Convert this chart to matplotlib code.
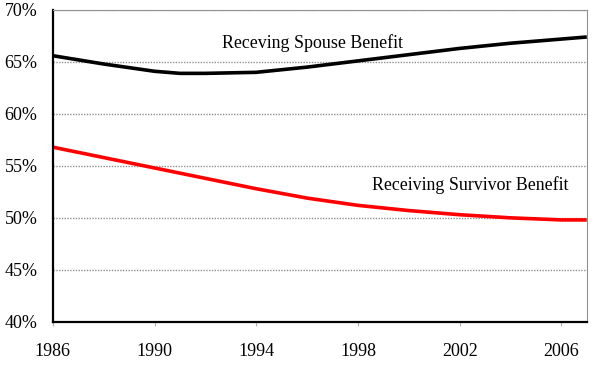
import numpy as np
import matplotlib
matplotlib.use("Agg")
import matplotlib.pyplot as plt
from matplotlib.ticker import FuncFormatter

years = [1986, 1988, 1990, 1991, 1992, 1994, 1996, 1998, 2000, 2002, 2004, 2006, 2007]
spouse = [65.6, 64.8, 64.1, 63.9, 63.9, 64.0, 64.5, 65.1, 65.7, 66.3, 66.8, 67.2, 67.4]
survivor = [56.8, 55.8, 54.8, 54.3, 53.8, 52.8, 51.9, 51.2, 50.7, 50.3, 50.0, 49.8, 49.8]

xticks = [1986, 1990, 1994, 1998, 2002, 2006]
yticks = [40, 45, 50, 55, 60, 65, 70]

plt.rcParams["font.family"] = ["Liberation Serif", "DejaVu Serif"]

fig = plt.figure(figsize=(6, 3.69), dpi=100)
ax = fig.add_axes([0.088, 0.128, 0.89, 0.845])

ax.plot(years, spouse, color="black", lw=2.6, solid_capstyle="butt")
ax.plot(years, survivor, color="#ff0000", lw=2.6, solid_capstyle="butt")

ax.text(1996.2, 66.8, "Receving Spouse Benefit", ha="center", va="center", fontsize=12.9)
ax.text(2002.4, 53.15, "Receiving Survivor Benefit", ha="center", va="center", fontsize=12.9)

ax.set_xlim(1986, 2007)
ax.set_ylim(40, 70)
ax.set_xticks(xticks)
ax.set_yticks(yticks)
ax.yaxis.set_major_formatter(FuncFormatter(lambda v, p: "%d%%" % v))
ax.grid(axis="y", color="#909090", ls=(0, (1, 1)), lw=1.0)
ax.set_axisbelow(True)

for s in ["top", "right"]:
    ax.spines[s].set_color("#909090")
    ax.spines[s].set_linestyle((0, (1, 1)))
for s in ["left", "bottom"]:
    ax.spines[s].set_color("black")
    ax.spines[s].set_linewidth(1.6)

ax.tick_params(axis="y", length=0, labelsize=13, pad=11)
ax.tick_params(axis="x", length=3, color="#b0b0b0", labelsize=13, pad=12)

fig.savefig("out.png", dpi=100)
